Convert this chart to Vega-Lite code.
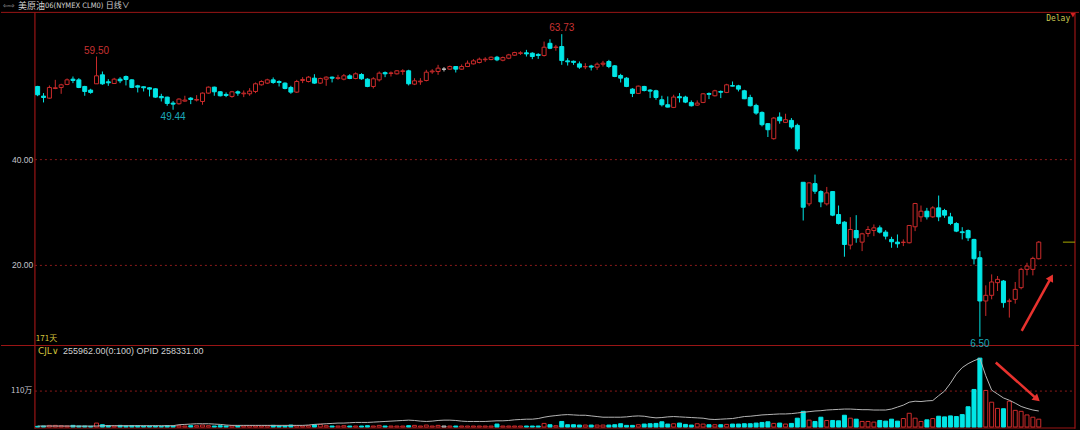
{
  "$schema": "https://vega.github.io/schema/vega-lite/v6.json",
  "width": 1080,
  "height": 430,
  "autosize": {"type": "fit", "contains": "padding"},
  "padding": 0,
  "background": "#000000",
  "config": {"view": {"stroke": null}, "scale": {"continuousPadding": 0}},
  "datasets": {
    "k": [
      {"i":0,"o":53.84,"h":53.95,"l":52.00,"c":52.26,"d":"d","v":0.02,"m":0.03},
      {"i":1,"o":52.01,"h":52.58,"l":50.82,"c":51.76,"d":"d","v":0.03,"m":0.03},
      {"i":2,"o":51.63,"h":54.03,"l":51.51,"c":53.65,"d":"u","v":0.05,"m":0.03},
      {"i":3,"o":53.46,"h":55.09,"l":53.33,"c":53.59,"d":"u","v":0.05,"m":0.03},
      {"i":4,"o":53.65,"h":54.34,"l":52.45,"c":54.15,"d":"u","v":0.04,"m":0.03},
      {"i":5,"o":54.22,"h":55.35,"l":54.09,"c":55.09,"d":"u","v":0.03,"m":0.03},
      {"i":6,"o":55.22,"h":55.72,"l":54.47,"c":54.97,"d":"d","v":0.05,"m":0.03},
      {"i":7,"o":55.09,"h":55.41,"l":53.52,"c":53.65,"d":"d","v":0.03,"m":0.03},
      {"i":8,"o":53.84,"h":53.96,"l":52.08,"c":52.89,"d":"d","v":0.03,"m":0.03},
      {"i":9,"o":53.15,"h":53.40,"l":52.45,"c":52.71,"d":"d","v":0.02,"m":0.03},
      {"i":10,"o":54.34,"h":59.50,"l":54.34,"c":55.85,"d":"u","v":0.12,"m":0.03},
      {"i":11,"o":56.04,"h":56.67,"l":54.15,"c":54.34,"d":"d","v":0.07,"m":0.04},
      {"i":12,"o":54.72,"h":55.22,"l":53.96,"c":54.53,"d":"d","v":0.04,"m":0.04},
      {"i":13,"o":54.40,"h":55.47,"l":54.34,"c":55.22,"d":"u","v":0.03,"m":0.04},
      {"i":14,"o":55.22,"h":55.60,"l":54.47,"c":54.91,"d":"d","v":0.05,"m":0.04},
      {"i":15,"o":55.72,"h":55.91,"l":54.03,"c":55.16,"d":"d","v":0.03,"m":0.04},
      {"i":16,"o":55.09,"h":55.22,"l":53.52,"c":53.65,"d":"d","v":0.04,"m":0.04},
      {"i":17,"o":53.96,"h":54.15,"l":52.71,"c":53.71,"d":"d","v":0.04,"m":0.04},
      {"i":18,"o":53.78,"h":53.84,"l":52.89,"c":53.59,"d":"d","v":0.03,"m":0.04},
      {"i":19,"o":53.59,"h":53.71,"l":51.95,"c":53.33,"d":"d","v":0.03,"m":0.04},
      {"i":20,"o":53.40,"h":53.50,"l":51.70,"c":51.82,"d":"d","v":0.03,"m":0.04},
      {"i":21,"o":51.95,"h":52.45,"l":51.00,"c":51.70,"d":"d","v":0.02,"m":0.04},
      {"i":22,"o":51.82,"h":51.90,"l":50.19,"c":50.63,"d":"d","v":0.04,"m":0.04},
      {"i":23,"o":50.69,"h":51.07,"l":49.44,"c":50.50,"d":"d","v":0.03,"m":0.04},
      {"i":24,"o":50.57,"h":51.60,"l":50.40,"c":51.45,"d":"u","v":0.04,"m":0.07},
      {"i":25,"o":51.07,"h":52.08,"l":50.94,"c":51.26,"d":"u","v":0.03,"m":0.08},
      {"i":26,"o":51.63,"h":51.82,"l":50.50,"c":51.38,"d":"d","v":0.04,"m":0.09},
      {"i":27,"o":51.26,"h":52.20,"l":51.00,"c":51.38,"d":"u","v":0.04,"m":0.10},
      {"i":28,"o":51.00,"h":52.71,"l":50.38,"c":52.58,"d":"u","v":0.06,"m":0.10},
      {"i":29,"o":52.58,"h":53.84,"l":52.45,"c":53.71,"d":"u","v":0.04,"m":0.10},
      {"i":30,"o":53.71,"h":53.80,"l":52.08,"c":52.83,"d":"d","v":0.03,"m":0.09},
      {"i":31,"o":52.83,"h":52.95,"l":51.95,"c":52.08,"d":"d","v":0.04,"m":0.08},
      {"i":32,"o":52.33,"h":52.71,"l":51.82,"c":52.14,"d":"d","v":0.03,"m":0.06},
      {"i":33,"o":51.95,"h":53.00,"l":51.70,"c":52.83,"d":"u","v":0.04,"m":0.05},
      {"i":34,"o":52.83,"h":53.08,"l":52.08,"c":52.58,"d":"d","v":0.03,"m":0.05},
      {"i":35,"o":52.45,"h":53.08,"l":51.82,"c":52.58,"d":"u","v":0.03,"m":0.05},
      {"i":36,"o":52.45,"h":53.52,"l":52.08,"c":52.96,"d":"u","v":0.04,"m":0.05},
      {"i":37,"o":52.89,"h":54.59,"l":52.58,"c":54.34,"d":"u","v":0.03,"m":0.05},
      {"i":38,"o":54.15,"h":55.00,"l":54.00,"c":54.78,"d":"u","v":0.03,"m":0.05},
      {"i":39,"o":54.47,"h":55.30,"l":54.30,"c":55.09,"d":"u","v":0.04,"m":0.05},
      {"i":40,"o":55.09,"h":55.54,"l":54.34,"c":54.59,"d":"d","v":0.05,"m":0.05},
      {"i":41,"o":54.78,"h":55.00,"l":53.84,"c":54.59,"d":"d","v":0.03,"m":0.05},
      {"i":42,"o":54.47,"h":54.60,"l":53.30,"c":53.46,"d":"d","v":0.03,"m":0.05},
      {"i":43,"o":53.65,"h":53.96,"l":52.45,"c":52.77,"d":"d","v":0.06,"m":0.05},
      {"i":44,"o":52.77,"h":55.09,"l":52.60,"c":54.78,"d":"u","v":0.04,"m":0.05},
      {"i":45,"o":54.97,"h":55.60,"l":54.47,"c":55.16,"d":"u","v":0.03,"m":0.05},
      {"i":46,"o":54.78,"h":55.80,"l":54.60,"c":55.60,"d":"u","v":0.04,"m":0.06},
      {"i":47,"o":55.41,"h":56.16,"l":54.34,"c":54.47,"d":"d","v":0.07,"m":0.08},
      {"i":48,"o":54.47,"h":55.50,"l":54.30,"c":55.35,"d":"u","v":0.08,"m":0.09},
      {"i":49,"o":55.22,"h":55.75,"l":53.96,"c":55.60,"d":"u","v":0.04,"m":0.10},
      {"i":50,"o":55.60,"h":55.72,"l":54.60,"c":55.40,"d":"d","v":0.03,"m":0.11},
      {"i":51,"o":55.35,"h":56.04,"l":55.10,"c":55.50,"d":"u","v":0.03,"m":0.12},
      {"i":52,"o":55.22,"h":56.20,"l":55.00,"c":55.85,"d":"u","v":0.04,"m":0.12},
      {"i":53,"o":55.85,"h":56.16,"l":55.22,"c":55.35,"d":"d","v":0.03,"m":0.13},
      {"i":54,"o":55.35,"h":56.50,"l":55.20,"c":56.23,"d":"u","v":0.03,"m":0.14},
      {"i":55,"o":56.10,"h":56.35,"l":55.10,"c":55.29,"d":"d","v":0.03,"m":0.14},
      {"i":56,"o":55.22,"h":55.40,"l":53.70,"c":53.84,"d":"d","v":0.04,"m":0.14},
      {"i":57,"o":53.84,"h":55.60,"l":53.46,"c":55.29,"d":"u","v":0.03,"m":0.15},
      {"i":58,"o":55.09,"h":56.67,"l":54.78,"c":56.35,"d":"u","v":0.05,"m":0.16},
      {"i":59,"o":56.45,"h":56.67,"l":55.60,"c":56.23,"d":"d","v":0.03,"m":0.17},
      {"i":60,"o":56.30,"h":56.67,"l":55.72,"c":56.40,"d":"u","v":0.03,"m":0.18},
      {"i":61,"o":56.23,"h":56.90,"l":56.10,"c":56.80,"d":"u","v":0.03,"m":0.19},
      {"i":62,"o":56.67,"h":57.10,"l":56.04,"c":56.80,"d":"u","v":0.03,"m":0.20},
      {"i":63,"o":56.80,"h":57.00,"l":54.03,"c":54.34,"d":"d","v":0.04,"m":0.21},
      {"i":64,"o":54.28,"h":55.40,"l":54.10,"c":54.91,"d":"u","v":0.05,"m":0.20},
      {"i":65,"o":54.72,"h":55.41,"l":54.15,"c":54.85,"d":"u","v":0.03,"m":0.18},
      {"i":66,"o":54.97,"h":56.98,"l":54.80,"c":56.54,"d":"u","v":0.06,"m":0.17},
      {"i":67,"o":56.60,"h":57.10,"l":56.23,"c":56.75,"d":"u","v":0.03,"m":0.18},
      {"i":68,"o":56.67,"h":57.93,"l":56.04,"c":57.30,"d":"u","v":0.05,"m":0.20},
      {"i":69,"o":57.11,"h":57.49,"l":56.67,"c":57.11,"d":"n","v":0.03,"m":0.21},
      {"i":70,"o":57.11,"h":57.80,"l":57.00,"c":57.61,"d":"u","v":0.03,"m":0.21},
      {"i":71,"o":57.61,"h":57.70,"l":56.48,"c":57.11,"d":"d","v":0.03,"m":0.20},
      {"i":72,"o":57.11,"h":58.00,"l":57.00,"c":57.61,"d":"u","v":0.03,"m":0.18},
      {"i":73,"o":57.61,"h":58.74,"l":57.50,"c":58.24,"d":"u","v":0.03,"m":0.17},
      {"i":74,"o":58.11,"h":59.00,"l":58.00,"c":58.68,"d":"u","v":0.03,"m":0.17},
      {"i":75,"o":58.37,"h":59.30,"l":58.20,"c":58.99,"d":"u","v":0.03,"m":0.17},
      {"i":76,"o":58.90,"h":59.37,"l":58.49,"c":59.00,"d":"u","v":0.03,"m":0.17},
      {"i":77,"o":58.93,"h":59.50,"l":58.80,"c":59.37,"d":"u","v":0.03,"m":0.18},
      {"i":78,"o":59.37,"h":59.62,"l":58.62,"c":58.87,"d":"d","v":0.09,"m":0.19},
      {"i":79,"o":58.80,"h":59.50,"l":58.60,"c":59.30,"d":"u","v":0.03,"m":0.19},
      {"i":80,"o":59.18,"h":60.00,"l":59.00,"c":59.81,"d":"u","v":0.03,"m":0.20},
      {"i":81,"o":59.75,"h":60.40,"l":59.60,"c":60.25,"d":"u","v":0.03,"m":0.22},
      {"i":82,"o":60.10,"h":60.50,"l":59.80,"c":60.20,"d":"u","v":0.03,"m":0.23},
      {"i":83,"o":60.20,"h":60.76,"l":59.50,"c":60.00,"d":"d","v":0.03,"m":0.24},
      {"i":84,"o":60.13,"h":60.30,"l":59.00,"c":59.50,"d":"d","v":0.03,"m":0.24},
      {"i":85,"o":59.90,"h":60.13,"l":59.06,"c":59.70,"d":"d","v":0.03,"m":0.26},
      {"i":86,"o":59.69,"h":62.33,"l":59.50,"c":61.26,"d":"u","v":0.11,"m":0.30},
      {"i":87,"o":62.00,"h":62.77,"l":60.90,"c":61.07,"d":"d","v":0.07,"m":0.33},
      {"i":88,"o":61.20,"h":61.70,"l":60.60,"c":61.30,"d":"u","v":0.04,"m":0.35},
      {"i":89,"o":61.39,"h":63.73,"l":57.93,"c":58.74,"d":"d","v":0.17,"m":0.37},
      {"i":90,"o":58.68,"h":59.18,"l":57.80,"c":58.50,"d":"d","v":0.07,"m":0.38},
      {"i":91,"o":58.60,"h":58.74,"l":57.93,"c":58.40,"d":"d","v":0.07,"m":0.37},
      {"i":92,"o":58.11,"h":58.56,"l":57.17,"c":57.49,"d":"d","v":0.06,"m":0.36},
      {"i":93,"o":57.55,"h":58.24,"l":57.11,"c":57.60,"d":"u","v":0.06,"m":0.36},
      {"i":94,"o":57.70,"h":57.93,"l":56.86,"c":57.50,"d":"d","v":0.06,"m":0.34},
      {"i":95,"o":57.49,"h":58.37,"l":56.98,"c":58.05,"d":"u","v":0.06,"m":0.32},
      {"i":96,"o":58.05,"h":58.68,"l":57.61,"c":58.24,"d":"u","v":0.06,"m":0.30},
      {"i":97,"o":58.56,"h":58.87,"l":57.30,"c":57.61,"d":"d","v":0.06,"m":0.30},
      {"i":98,"o":57.74,"h":57.90,"l":55.60,"c":55.73,"d":"d","v":0.07,"m":0.30},
      {"i":99,"o":55.91,"h":56.23,"l":54.59,"c":55.41,"d":"d","v":0.10,"m":0.30},
      {"i":100,"o":55.41,"h":55.60,"l":53.71,"c":53.84,"d":"d","v":0.05,"m":0.31},
      {"i":101,"o":53.34,"h":53.52,"l":51.83,"c":52.52,"d":"d","v":0.05,"m":0.33},
      {"i":102,"o":52.52,"h":54.00,"l":52.40,"c":53.90,"d":"u","v":0.07,"m":0.34},
      {"i":103,"o":53.84,"h":53.96,"l":52.90,"c":53.08,"d":"d","v":0.09,"m":0.33},
      {"i":104,"o":53.15,"h":53.33,"l":51.64,"c":52.96,"d":"d","v":0.10,"m":0.30},
      {"i":105,"o":53.02,"h":53.21,"l":51.32,"c":51.76,"d":"d","v":0.11,"m":0.28},
      {"i":106,"o":51.32,"h":52.08,"l":50.06,"c":50.38,"d":"d","v":0.16,"m":0.29},
      {"i":107,"o":50.38,"h":51.95,"l":49.88,"c":49.94,"d":"d","v":0.09,"m":0.31},
      {"i":108,"o":49.88,"h":52.27,"l":49.75,"c":51.83,"d":"u","v":0.10,"m":0.32},
      {"i":109,"o":51.90,"h":52.58,"l":50.82,"c":51.70,"d":"d","v":0.12,"m":0.31},
      {"i":110,"o":51.83,"h":52.08,"l":50.69,"c":50.88,"d":"d","v":0.08,"m":0.30},
      {"i":111,"o":50.82,"h":51.20,"l":50.06,"c":50.19,"d":"d","v":0.06,"m":0.29},
      {"i":112,"o":50.32,"h":51.20,"l":50.19,"c":50.69,"d":"u","v":0.10,"m":0.28},
      {"i":113,"o":50.82,"h":52.58,"l":50.69,"c":52.45,"d":"u","v":0.09,"m":0.27},
      {"i":114,"o":52.50,"h":52.71,"l":51.45,"c":52.35,"d":"d","v":0.07,"m":0.24},
      {"i":115,"o":52.08,"h":53.21,"l":51.95,"c":53.02,"d":"u","v":0.07,"m":0.23},
      {"i":116,"o":52.90,"h":53.08,"l":51.64,"c":52.75,"d":"d","v":0.07,"m":0.24},
      {"i":117,"o":52.71,"h":54.34,"l":52.58,"c":54.15,"d":"u","v":0.08,"m":0.25},
      {"i":118,"o":54.00,"h":54.78,"l":53.84,"c":53.90,"d":"d","v":0.09,"m":0.26},
      {"i":119,"o":53.96,"h":54.15,"l":52.90,"c":53.34,"d":"d","v":0.09,"m":0.29},
      {"i":120,"o":53.02,"h":53.21,"l":51.45,"c":51.51,"d":"d","v":0.10,"m":0.32},
      {"i":121,"o":51.76,"h":52.27,"l":50.06,"c":50.19,"d":"d","v":0.10,"m":0.33},
      {"i":122,"o":50.25,"h":50.57,"l":48.49,"c":48.81,"d":"d","v":0.12,"m":0.35},
      {"i":123,"o":48.93,"h":49.12,"l":46.29,"c":46.61,"d":"d","v":0.14,"m":0.37},
      {"i":124,"o":46.80,"h":46.92,"l":44.28,"c":45.66,"d":"d","v":0.16,"m":0.38},
      {"i":125,"o":43.96,"h":48.05,"l":43.78,"c":47.86,"d":"u","v":0.11,"m":0.39},
      {"i":126,"o":48.05,"h":48.93,"l":46.80,"c":47.36,"d":"d","v":0.12,"m":0.40},
      {"i":127,"o":47.05,"h":48.68,"l":46.92,"c":47.55,"d":"u","v":0.09,"m":0.40},
      {"i":128,"o":47.42,"h":47.86,"l":45.85,"c":46.17,"d":"d","v":0.11,"m":0.41},
      {"i":129,"o":46.48,"h":46.80,"l":41.57,"c":42.02,"d":"d","v":0.27,"m":0.43},
      {"i":130,"o":35.72,"h":35.72,"l":28.49,"c":31.00,"d":"d","v":0.48,"m":0.45},
      {"i":131,"o":31.64,"h":35.72,"l":31.20,"c":35.60,"d":"u","v":0.21,"m":0.47},
      {"i":132,"o":35.47,"h":37.17,"l":33.52,"c":34.03,"d":"d","v":0.17,"m":0.49},
      {"i":133,"o":33.96,"h":34.21,"l":31.00,"c":32.01,"d":"d","v":0.30,"m":0.50},
      {"i":134,"o":31.64,"h":34.84,"l":31.32,"c":33.71,"d":"u","v":0.20,"m":0.52},
      {"i":135,"o":33.96,"h":34.00,"l":29.31,"c":29.50,"d":"d","v":0.20,"m":0.53},
      {"i":136,"o":29.62,"h":31.32,"l":27.74,"c":27.92,"d":"d","v":0.19,"m":0.54},
      {"i":137,"o":28.18,"h":28.36,"l":21.64,"c":23.96,"d":"d","v":0.36,"m":0.55},
      {"i":138,"o":23.84,"h":29.12,"l":23.02,"c":26.79,"d":"u","v":0.27,"m":0.55},
      {"i":139,"o":26.60,"h":29.50,"l":24.28,"c":25.22,"d":"d","v":0.24,"m":0.54},
      {"i":140,"o":24.40,"h":26.16,"l":22.70,"c":25.97,"d":"u","v":0.17,"m":0.53},
      {"i":141,"o":26.04,"h":27.42,"l":25.41,"c":26.79,"d":"u","v":0.17,"m":0.53},
      {"i":142,"o":26.60,"h":27.74,"l":25.53,"c":27.10,"d":"u","v":0.15,"m":0.52},
      {"i":143,"o":27.10,"h":27.55,"l":26.04,"c":26.29,"d":"d","v":0.20,"m":0.52},
      {"i":144,"o":26.29,"h":26.67,"l":24.91,"c":25.53,"d":"d","v":0.18,"m":0.52},
      {"i":145,"o":24.91,"h":25.41,"l":23.33,"c":24.47,"d":"d","v":0.24,"m":0.55},
      {"i":146,"o":24.40,"h":25.85,"l":23.33,"c":24.09,"d":"d","v":0.18,"m":0.61},
      {"i":147,"o":24.34,"h":24.91,"l":23.65,"c":24.40,"d":"u","v":0.26,"m":0.67},
      {"i":148,"o":24.28,"h":27.60,"l":24.15,"c":27.55,"d":"u","v":0.42,"m":0.76},
      {"i":149,"o":27.30,"h":31.82,"l":26.48,"c":31.70,"d":"u","v":0.27,"m":0.79},
      {"i":150,"o":29.18,"h":31.32,"l":28.24,"c":30.25,"d":"u","v":0.17,"m":0.78},
      {"i":151,"o":30.25,"h":30.88,"l":28.68,"c":29.18,"d":"d","v":0.22,"m":0.80},
      {"i":152,"o":29.18,"h":31.20,"l":29.00,"c":30.88,"d":"u","v":0.26,"m":0.81},
      {"i":153,"o":30.88,"h":33.21,"l":28.36,"c":29.18,"d":"d","v":0.33,"m":0.96},
      {"i":154,"o":30.38,"h":30.69,"l":29.00,"c":29.50,"d":"d","v":0.31,"m":1.10},
      {"i":155,"o":29.18,"h":29.94,"l":27.61,"c":27.92,"d":"d","v":0.34,"m":1.34},
      {"i":156,"o":27.92,"h":28.18,"l":26.29,"c":26.48,"d":"d","v":0.32,"m":1.62},
      {"i":157,"o":26.35,"h":27.23,"l":24.91,"c":26.20,"d":"d","v":0.38,"m":1.82},
      {"i":158,"o":26.60,"h":26.79,"l":24.60,"c":25.22,"d":"d","v":0.62,"m":1.94},
      {"i":159,"o":24.91,"h":25.03,"l":20.19,"c":21.26,"d":"d","v":1.15,"m":2.03},
      {"i":160,"o":21.45,"h":22.70,"l":6.50,"c":13.27,"d":"d","v":2.11,"m":2.10},
      {"i":161,"o":13.27,"h":16.23,"l":10.44,"c":14.34,"d":"u","v":1.12,"m":1.57},
      {"i":162,"o":14.34,"h":18.30,"l":13.58,"c":16.86,"d":"u","v":0.76,"m":1.13},
      {"i":163,"o":16.73,"h":17.99,"l":15.16,"c":17.36,"d":"u","v":0.57,"m":1.01},
      {"i":164,"o":17.04,"h":17.23,"l":12.01,"c":12.96,"d":"d","v":0.56,"m":0.89},
      {"i":165,"o":13.20,"h":13.71,"l":10.13,"c":13.30,"d":"u","v":0.79,"m":0.82},
      {"i":166,"o":13.58,"h":16.86,"l":12.77,"c":15.47,"d":"u","v":0.51,"m":0.73},
      {"i":167,"o":15.79,"h":19.56,"l":15.47,"c":19.25,"d":"u","v":0.48,"m":0.63},
      {"i":168,"o":19.25,"h":20.50,"l":18.11,"c":19.87,"d":"u","v":0.37,"m":0.57},
      {"i":169,"o":19.25,"h":21.64,"l":18.11,"c":21.32,"d":"u","v":0.30,"m":0.52},
      {"i":170,"o":21.26,"h":24.60,"l":21.13,"c":24.40,"d":"u","v":0.24,"m":0.49}
    ]
  },
  "layer": [
    {
      "layer": [
        {
          "data": {"values": [{"g": 40}, {"g": 20}]},
          "mark": {"type": "rule", "color": "#8b1a1a", "strokeDash": [2, 3], "strokeWidth": 1},
          "encoding": {
            "x": {"datum": -0.46, "type": "quantitative", "scale": {"domain": [-6.22, 176.83], "nice": false, "zero": false, "padding": 0}, "axis": null},
            "x2": {"datum": 176.15},
            "y": {"field": "g", "type": "quantitative", "scale": {"domain": [-10.94, 70.19], "nice": false, "zero": false, "padding": 0}, "axis": null}
          }
        },
        {
          "data": {"values": [{"g": 40}, {"g": 20}]},
          "mark": {"type": "text", "align": "right", "baseline": "middle", "color": "#c4c4cc", "font": "Liberation Sans", "fontSize": 8.5},
          "encoding": {
            "x": {"datum": -0.75, "type": "quantitative", "scale": {"domain": [-6.22, 176.83], "nice": false, "zero": false, "padding": 0}, "axis": null},
            "y": {"field": "g", "type": "quantitative", "scale": {"domain": [-10.94, 70.19], "nice": false, "zero": false, "padding": 0}, "axis": null},
            "text": {"field": "g", "type": "quantitative", "format": ".2f"}
          }
        },
        {
          "data": {"values": [{}]},
          "mark": {"type": "rule", "color": "#9a1515", "strokeWidth": 1},
          "encoding": {
            "x": {"datum": -6.22, "type": "quantitative", "scale": {"domain": [-6.22, 176.83], "nice": false, "zero": false, "padding": 0}, "axis": null},
            "x2": {"datum": 176.83},
            "y": {"datum": 67.85, "type": "quantitative", "scale": {"domain": [-10.94, 70.19], "nice": false, "zero": false, "padding": 0}, "axis": null}
          }
        },
        {
          "data": {"values": [{}]},
          "mark": {"type": "rule", "color": "#9a1515", "strokeWidth": 1},
          "encoding": {
            "x": {"datum": -6.22, "type": "quantitative", "scale": {"domain": [-6.22, 176.83], "nice": false, "zero": false, "padding": 0}, "axis": null},
            "x2": {"datum": 176.83},
            "y": {"datum": 4.85, "type": "quantitative", "scale": {"domain": [-10.94, 70.19], "nice": false, "zero": false, "padding": 0}, "axis": null}
          }
        },
        {
          "data": {"values": [{}]},
          "mark": {"type": "rule", "color": "#9a1515", "strokeWidth": 1.2},
          "encoding": {
            "x": {"datum": -0.46, "type": "quantitative", "scale": {"domain": [-6.22, 176.83], "nice": false, "zero": false, "padding": 0}, "axis": null},
            "y": {"datum": 67.85, "type": "quantitative", "scale": {"domain": [-10.94, 70.19], "nice": false, "zero": false, "padding": 0}, "axis": null},
            "y2": {"datum": -10.9}
          }
        },
        {
          "data": {"values": [{}]},
          "mark": {"type": "rule", "color": "#9a1515", "strokeWidth": 1.2},
          "encoding": {
            "x": {"datum": 176.15, "type": "quantitative", "scale": {"domain": [-6.22, 176.83], "nice": false, "zero": false, "padding": 0}, "axis": null},
            "y": {"datum": 67.85, "type": "quantitative", "scale": {"domain": [-10.94, 70.19], "nice": false, "zero": false, "padding": 0}, "axis": null},
            "y2": {"datum": -10.9}
          }
        },
        {
          "data": {"values": [{}]},
          "mark": {"type": "rule", "color": "#a8a800", "strokeWidth": 1},
          "encoding": {
            "x": {"datum": 174.1, "type": "quantitative", "scale": {"domain": [-6.22, 176.83], "nice": false, "zero": false, "padding": 0}, "axis": null},
            "x2": {"datum": 176.15},
            "y": {"datum": 24.4, "type": "quantitative", "scale": {"domain": [-10.94, 70.19], "nice": false, "zero": false, "padding": 0}, "axis": null}
          }
        },
        {
          "data": {"name": "k"},
          "mark": {"type": "rule", "strokeWidth": 1},
          "encoding": {
            "x": {"field": "i", "type": "quantitative", "scale": {"domain": [-6.22, 176.83], "nice": false, "zero": false, "padding": 0}, "axis": null},
            "y": {"field": "l", "type": "quantitative", "scale": {"domain": [-10.94, 70.19], "nice": false, "zero": false, "padding": 0}, "axis": null},
            "y2": {"field": "h"},
            "color": {"field": "d", "type": "nominal", "scale": {"domain": ["u", "d", "n"], "range": ["#cc2b2b", "#00e6e6", "#c8c8c8"]}, "legend": null}
          }
        },
        {
          "data": {"name": "k"},
          "mark": {"type": "bar", "size": 4, "strokeWidth": 1},
          "encoding": {
            "x": {"field": "i", "type": "quantitative", "scale": {"domain": [-6.22, 176.83], "nice": false, "zero": false, "padding": 0}, "axis": null},
            "y": {"field": "o", "type": "quantitative", "scale": {"domain": [-10.94, 70.19], "nice": false, "zero": false, "padding": 0}, "axis": null},
            "y2": {"field": "c"},
            "fill": {"field": "d", "type": "nominal", "scale": {"domain": ["u", "d", "n"], "range": ["#000000", "#00e6e6", "#000000"]}, "legend": null},
            "stroke": {"field": "d", "type": "nominal", "scale": {"domain": ["u", "d", "n"], "range": ["#cc2b2b", "#00e6e6", "#c8c8c8"]}, "legend": null}
          }
        },
        {
          "data": {"values": [{"i": 10, "p": 59.5}, {"i": 89, "p": 63.73}]},
          "mark": {"type": "text", "baseline": "bottom", "dy": -1, "color": "#c83232", "font": "Liberation Sans", "fontSize": 10},
          "encoding": {
            "x": {"field": "i", "type": "quantitative", "scale": {"domain": [-6.22, 176.83], "nice": false, "zero": false, "padding": 0}, "axis": null},
            "y": {"field": "p", "type": "quantitative", "scale": {"domain": [-10.94, 70.19], "nice": false, "zero": false, "padding": 0}, "axis": null},
            "text": {"field": "p", "type": "quantitative", "format": ".2f"}
          }
        },
        {
          "data": {"values": [{"i": 23, "p": 49.44}, {"i": 160, "p": 6.5}]},
          "mark": {"type": "text", "baseline": "top", "dy": 2, "color": "#1aa8b8", "font": "Liberation Sans", "fontSize": 10},
          "encoding": {
            "x": {"field": "i", "type": "quantitative", "scale": {"domain": [-6.22, 176.83], "nice": false, "zero": false, "padding": 0}, "axis": null},
            "y": {"field": "p", "type": "quantitative", "scale": {"domain": [-10.94, 70.19], "nice": false, "zero": false, "padding": 0}, "axis": null},
            "text": {"field": "p", "type": "quantitative", "format": ".2f"}
          }
        },
        {
          "data": {"values": [{}]},
          "mark": {"type": "text", "align": "left", "baseline": "middle", "color": "#d0d0d0", "font": "Noto Sans CJK SC", "fontSize": 9, "text": "美原油"},
          "encoding": {
            "x": {"datum": -3.34, "type": "quantitative", "scale": {"domain": [-6.22, 176.83], "nice": false, "zero": false, "padding": 0}, "axis": null},
            "y": {"datum": 69.06, "type": "quantitative", "scale": {"domain": [-10.94, 70.19], "nice": false, "zero": false, "padding": 0}, "axis": null}
          }
        },
        {
          "data": {"values": [{}]},
          "mark": {"type": "text", "align": "left", "baseline": "middle", "color": "#d0d0d0", "font": "'Liberation Sans Narrow', 'DejaVu Sans Condensed', 'Liberation Sans'", "fontSize": 7.5, "text": "06(NYMEX CLM0)"},
          "encoding": {
            "x": {"datum": 1.25, "type": "quantitative", "scale": {"domain": [-6.22, 176.83], "nice": false, "zero": false, "padding": 0}, "axis": null},
            "y": {"datum": 69.06, "type": "quantitative", "scale": {"domain": [-10.94, 70.19], "nice": false, "zero": false, "padding": 0}, "axis": null}
          }
        },
        {
          "data": {"values": [{}]},
          "mark": {"type": "text", "align": "left", "baseline": "middle", "color": "#d0d0d0", "font": "Noto Sans CJK SC", "fontSize": 8, "text": "日线∨"},
          "encoding": {
            "x": {"datum": 11.58, "type": "quantitative", "scale": {"domain": [-6.22, 176.83], "nice": false, "zero": false, "padding": 0}, "axis": null},
            "y": {"datum": 69.06, "type": "quantitative", "scale": {"domain": [-10.94, 70.19], "nice": false, "zero": false, "padding": 0}, "axis": null}
          }
        },
        {
          "data": {"values": [{}]},
          "mark": {"type": "text", "align": "left", "baseline": "middle", "color": "#b0b0b0", "font": "DejaVu Sans", "fontSize": 7, "text": "⇦⇨"},
          "encoding": {
            "x": {"datum": -5.9, "type": "quantitative", "scale": {"domain": [-6.22, 176.83], "nice": false, "zero": false, "padding": 0}, "axis": null},
            "y": {"datum": 69.06, "type": "quantitative", "scale": {"domain": [-10.94, 70.19], "nice": false, "zero": false, "padding": 0}, "axis": null}
          }
        },
        {
          "data": {"values": [{}]},
          "mark": {"type": "text", "align": "left", "baseline": "middle", "color": "#d2c43c", "font": "Noto Sans CJK SC", "fontSize": 8, "text": "171天"},
          "encoding": {
            "x": {"datum": -0.3, "type": "quantitative", "scale": {"domain": [-6.22, 176.83], "nice": false, "zero": false, "padding": 0}, "axis": null},
            "y": {"datum": 6.1, "type": "quantitative", "scale": {"domain": [-10.94, 70.19], "nice": false, "zero": false, "padding": 0}, "axis": null}
          }
        },
        {
          "data": {"values": [{}]},
          "mark": {"type": "text", "align": "center", "baseline": "middle", "color": "#c8c850", "font": "DejaVu Sans Mono", "fontSize": 8, "text": "Delay"},
          "encoding": {
            "x": {"datum": 173.3, "type": "quantitative", "scale": {"domain": [-6.22, 176.83], "nice": false, "zero": false, "padding": 0}, "axis": null},
            "y": {"datum": 66.6, "type": "quantitative", "scale": {"domain": [-10.94, 70.19], "nice": false, "zero": false, "padding": 0}, "axis": null}
          }
        },
        {
          "data": {"values": [{}]},
          "mark": {"type": "point", "shape": "triangle-down", "filled": true, "color": "#d02020", "size": 25, "opacity": 1},
          "encoding": {
            "x": {"datum": 175.8, "type": "quantitative", "scale": {"domain": [-6.22, 176.83], "nice": false, "zero": false, "padding": 0}, "axis": null},
            "y": {"datum": 67.3, "type": "quantitative", "scale": {"domain": [-10.94, 70.19], "nice": false, "zero": false, "padding": 0}, "axis": null}
          }
        },
        {
          "data": {"values": [{}]},
          "mark": {"type": "rule", "color": "#e8322e", "strokeWidth": 2.5},
          "encoding": {
            "x": {"datum": 167.1, "type": "quantitative", "scale": {"domain": [-6.22, 176.83], "nice": false, "zero": false, "padding": 0}, "axis": null},
            "x2": {"datum": 172.0},
            "y": {"datum": 7.6, "type": "quantitative", "scale": {"domain": [-10.94, 70.19], "nice": false, "zero": false, "padding": 0}, "axis": null},
            "y2": {"datum": 17.5}
          }
        },
        {
          "data": {"values": [{}]},
          "mark": {"type": "point", "shape": "triangle-up", "filled": true, "color": "#e8322e", "size": 70, "angle": 28.7, "opacity": 1},
          "encoding": {
            "x": {"datum": 172.1, "type": "quantitative", "scale": {"domain": [-6.22, 176.83], "nice": false, "zero": false, "padding": 0}, "axis": null},
            "y": {"datum": 17.7, "type": "quantitative", "scale": {"domain": [-10.94, 70.19], "nice": false, "zero": false, "padding": 0}, "axis": null}
          }
        }
      ]
    },
    {
      "layer": [
        {
          "data": {"values": [{"g": 1.1}]},
          "mark": {"type": "rule", "color": "#8b1a1a", "strokeDash": [2, 3], "strokeWidth": 1},
          "encoding": {
            "x": {"datum": -0.46, "type": "quantitative", "scale": {"domain": [-6.22, 176.83], "nice": false, "zero": false, "padding": 0}, "axis": null},
            "x2": {"datum": 176.15},
            "y": {"field": "g", "type": "quantitative", "scale": {"domain": [-0.061, 13.078], "nice": false, "zero": false, "padding": 0}, "axis": null}
          }
        },
        {
          "data": {"values": [{}]},
          "mark": {"type": "text", "align": "right", "baseline": "middle", "color": "#c4c4cc", "font": "Noto Sans CJK SC", "fontSize": 8, "text": "110万"},
          "encoding": {
            "x": {"datum": -0.9, "type": "quantitative", "scale": {"domain": [-6.22, 176.83], "nice": false, "zero": false, "padding": 0}, "axis": null},
            "y": {"datum": 1.1, "type": "quantitative", "scale": {"domain": [-0.061, 13.078], "nice": false, "zero": false, "padding": 0}, "axis": null}
          }
        },
        {
          "data": {"values": [{}]},
          "mark": {"type": "rule", "color": "#9a1515", "strokeWidth": 1},
          "encoding": {
            "x": {"datum": -0.46, "type": "quantitative", "scale": {"domain": [-6.22, 176.83], "nice": false, "zero": false, "padding": 0}, "axis": null},
            "x2": {"datum": 176.15},
            "y": {"datum": -0.03, "type": "quantitative", "scale": {"domain": [-0.061, 13.078], "nice": false, "zero": false, "padding": 0}, "axis": null}
          }
        },
        {
          "data": {"name": "k"},
          "mark": {"type": "bar", "size": 4, "strokeWidth": 1},
          "encoding": {
            "x": {"field": "i", "type": "quantitative", "scale": {"domain": [-6.22, 176.83], "nice": false, "zero": false, "padding": 0}, "axis": null},
            "y": {"field": "v", "type": "quantitative", "scale": {"domain": [-0.061, 13.078], "nice": false, "zero": false, "padding": 0}, "axis": null},
            "y2": {"datum": 0},
            "fill": {"field": "d", "type": "nominal", "scale": {"domain": ["u", "d", "n"], "range": ["#000000", "#00e6e6", "#000000"]}, "legend": null},
            "stroke": {"field": "d", "type": "nominal", "scale": {"domain": ["u", "d", "n"], "range": ["#cc2b2b", "#00e6e6", "#c8c8c8"]}, "legend": null}
          }
        },
        {
          "data": {"name": "k"},
          "mark": {"type": "line", "color": "#b4b4b4", "strokeWidth": 1},
          "encoding": {
            "x": {"field": "i", "type": "quantitative", "scale": {"domain": [-6.22, 176.83], "nice": false, "zero": false, "padding": 0}, "axis": null},
            "y": {"field": "m", "type": "quantitative", "scale": {"domain": [-0.061, 13.078], "nice": false, "zero": false, "padding": 0}, "axis": null}
          }
        },
        {
          "data": {"values": [{}]},
          "mark": {"type": "text", "align": "left", "baseline": "middle", "color": "#d2c43c", "font": "DejaVu Sans", "fontSize": 9, "text": "CJL∨"},
          "encoding": {
            "x": {"datum": 0.05, "type": "quantitative", "scale": {"domain": [-6.22, 176.83], "nice": false, "zero": false, "padding": 0}, "axis": null},
            "y": {"datum": 2.32, "type": "quantitative", "scale": {"domain": [-0.061, 13.078], "nice": false, "zero": false, "padding": 0}, "axis": null}
          }
        },
        {
          "data": {"values": [{}]},
          "mark": {"type": "text", "align": "left", "baseline": "middle", "color": "#d0d0d0", "font": "Liberation Sans", "fontSize": 9, "text": "255962.00(0:100)   OPID 258331.00"},
          "encoding": {
            "x": {"datum": 4.3, "type": "quantitative", "scale": {"domain": [-6.22, 176.83], "nice": false, "zero": false, "padding": 0}, "axis": null},
            "y": {"datum": 2.32, "type": "quantitative", "scale": {"domain": [-0.061, 13.078], "nice": false, "zero": false, "padding": 0}, "axis": null}
          }
        },
        {
          "data": {"values": [{}]},
          "mark": {"type": "rule", "color": "#e8322e", "strokeWidth": 2.5},
          "encoding": {
            "x": {"datum": 162.7, "type": "quantitative", "scale": {"domain": [-6.22, 176.83], "nice": false, "zero": false, "padding": 0}, "axis": null},
            "x2": {"datum": 169.6},
            "y": {"datum": 1.977, "type": "quantitative", "scale": {"domain": [-0.061, 13.078], "nice": false, "zero": false, "padding": 0}, "axis": null},
            "y2": {"datum": 0.87}
          }
        },
        {
          "data": {"values": [{}]},
          "mark": {"type": "point", "shape": "triangle-up", "filled": true, "color": "#e8322e", "size": 70, "angle": 131.6, "opacity": 1},
          "encoding": {
            "x": {"datum": 169.7, "type": "quantitative", "scale": {"domain": [-6.22, 176.83], "nice": false, "zero": false, "padding": 0}, "axis": null},
            "y": {"datum": 0.86, "type": "quantitative", "scale": {"domain": [-0.061, 13.078], "nice": false, "zero": false, "padding": 0}, "axis": null}
          }
        }
      ]
    }
  ],
  "resolve": {"scale": {"y": "independent"}}
}
